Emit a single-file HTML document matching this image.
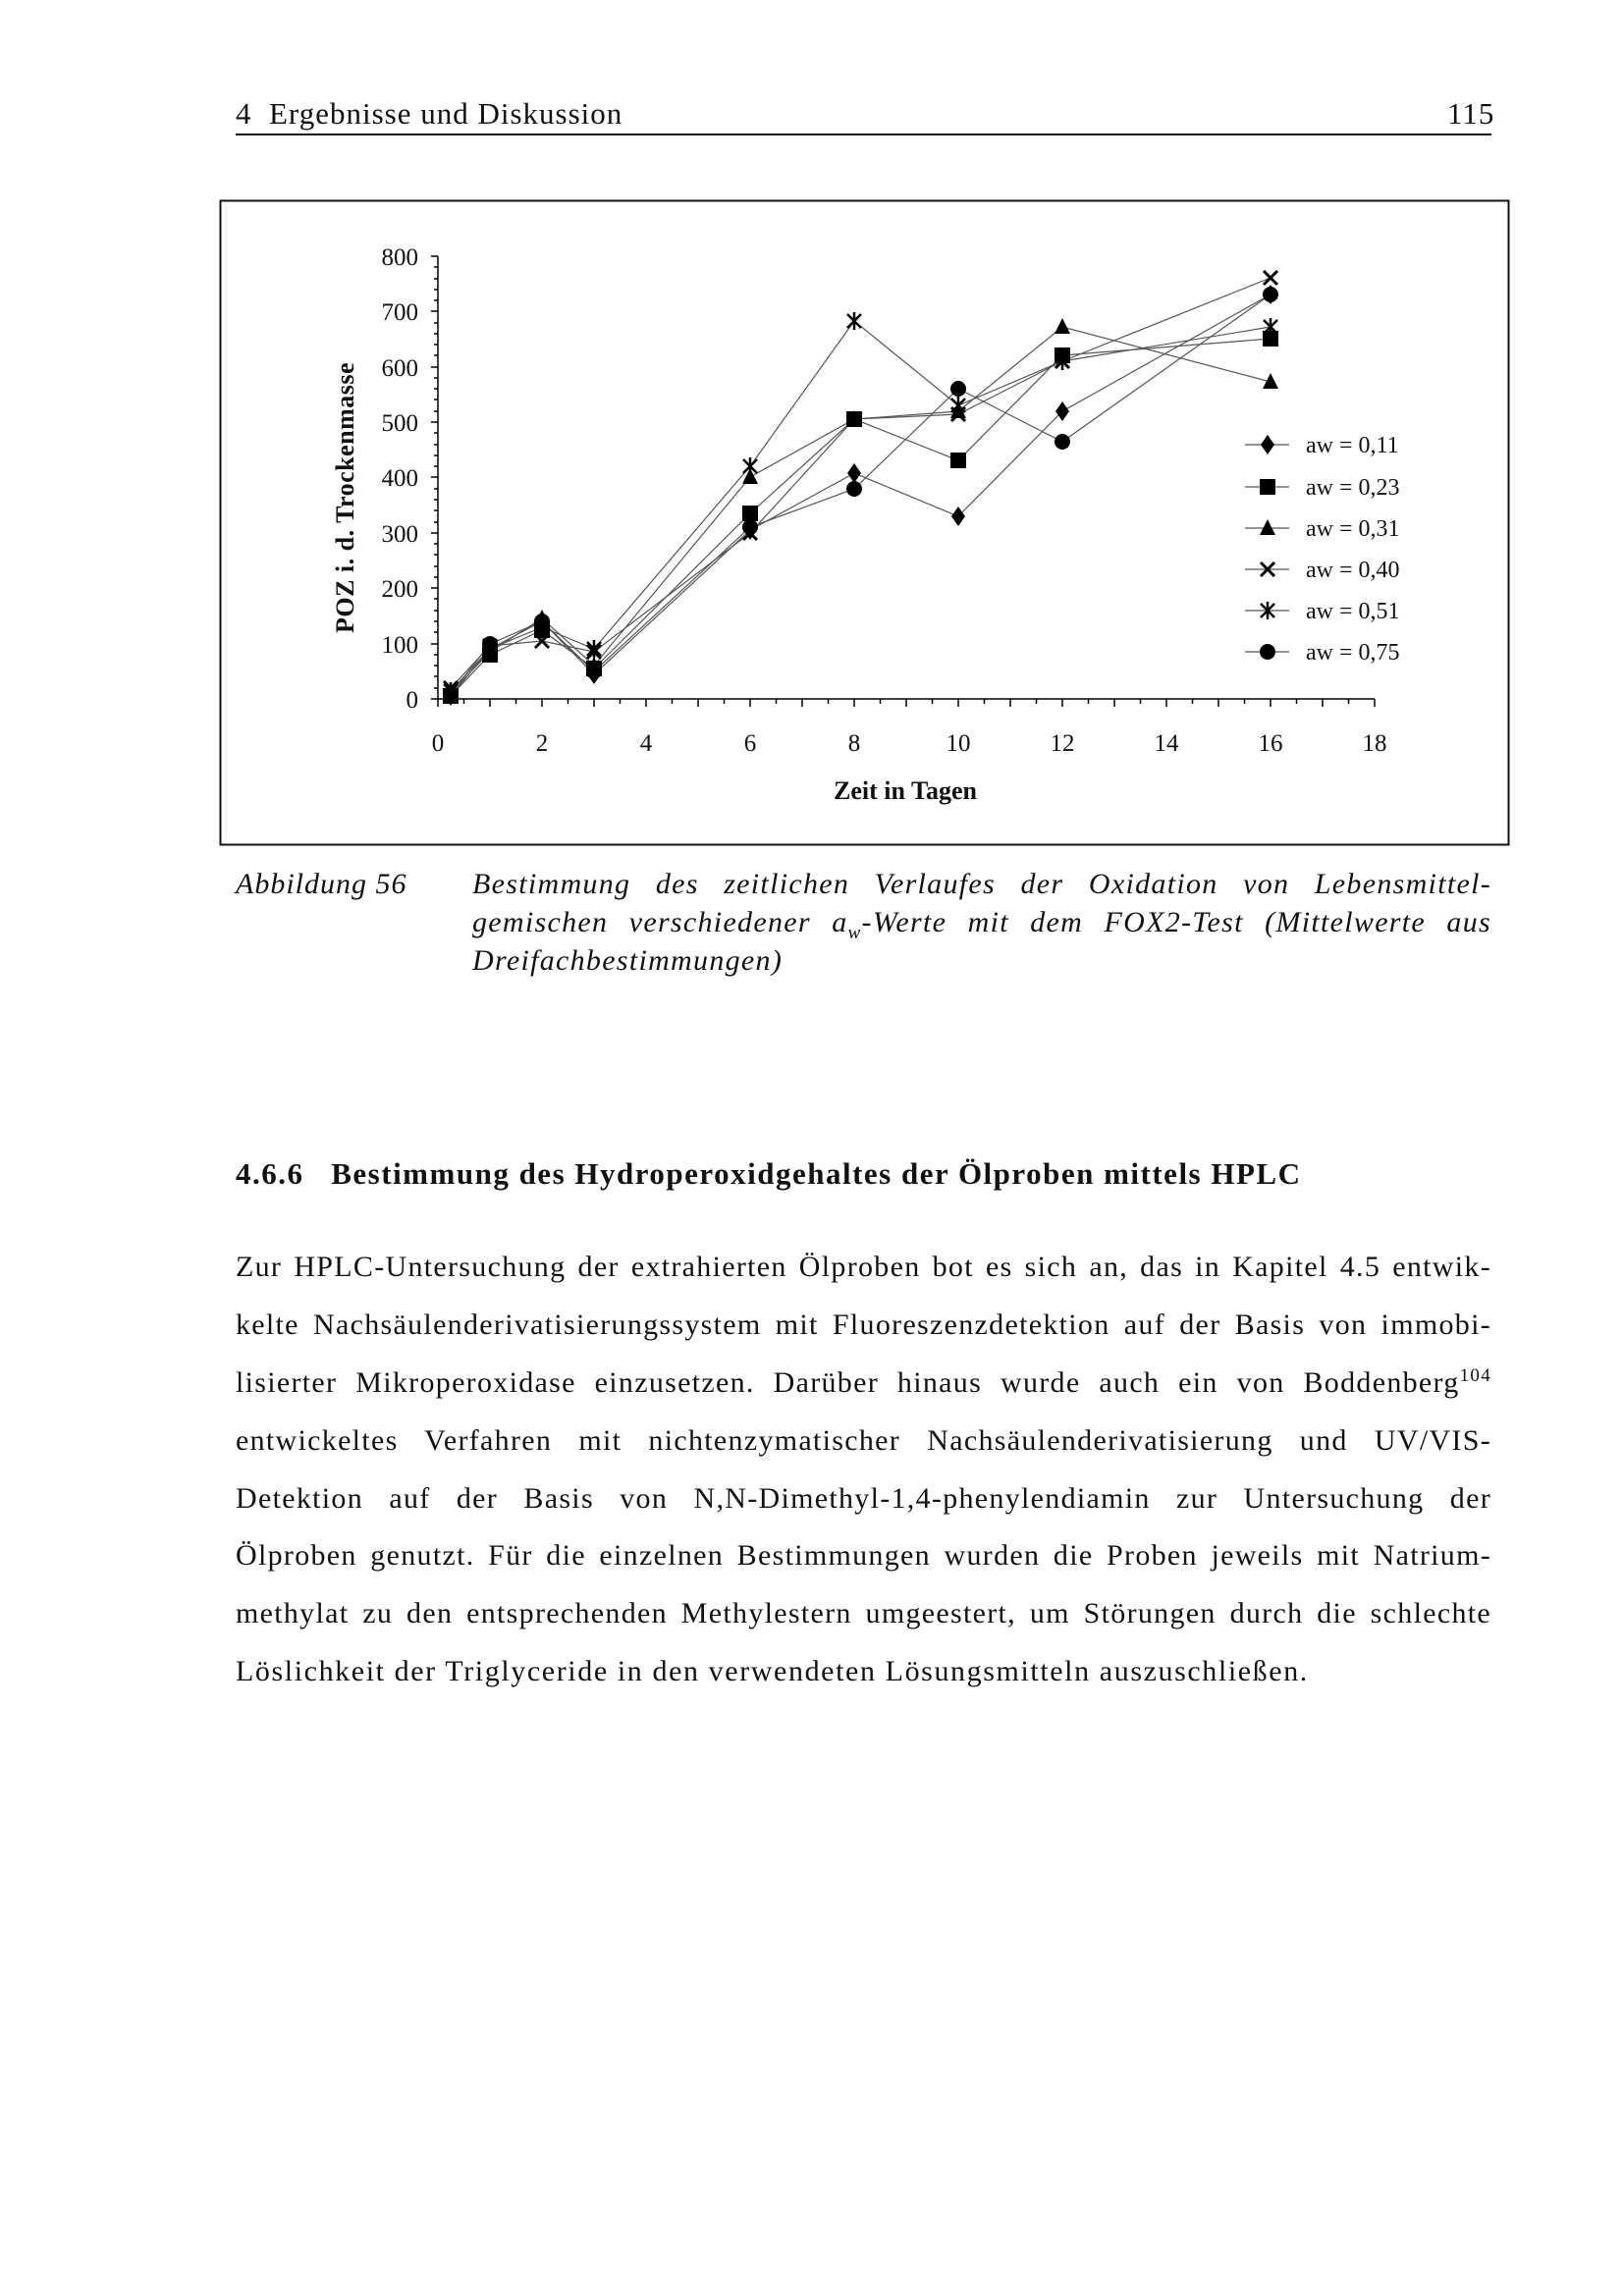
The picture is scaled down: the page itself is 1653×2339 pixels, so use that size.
<!DOCTYPE html>
<html><head><meta charset="utf-8"><style>
body{margin:0;background:#fff;}
.p{position:relative;width:1653px;height:2339px;font-family:"Liberation Serif",serif;color:#111;}
.t{position:absolute;white-space:nowrap;}
.j{position:absolute;left:240px;width:1279px;font-size:30px;letter-spacing:1.3px;text-align:justify;text-align-last:justify;white-space:nowrap;}
</style></head><body><div class="p">
<div class="t" style="left:240px;top:98px;font-size:31px;letter-spacing:1px;">4&nbsp; Ergebnisse und Diskussion</div>
<div class="t" style="left:1474px;top:98px;font-size:31px;letter-spacing:1px;">115</div>
<div style="position:absolute;left:240px;top:136px;width:1279px;height:2px;background:#111"></div>

<svg style="position:absolute;left:0;top:0" width="1653" height="900">
<rect x="224.5" y="204.5" width="1312" height="656" fill="none" stroke="#111" stroke-width="2"/>
<defs>
<path id="d" d="M0,-10 L7,0 L0,10 L-7,0Z" fill="#000"/>
<rect id="s" x="-8" y="-8" width="16" height="16" fill="#000"/>
<path id="tr" d="M0,-9 L8,7 L-8,7Z" fill="#000"/>
<path id="x" d="M-7,-7 L7,7 M-7,7 L7,-7" stroke="#000" stroke-width="3"/>
<path id="a" d="M-7,-7 L7,7 M-7,7 L7,-7 M0,-9 L0,9" stroke="#000" stroke-width="2.5"/>
<circle id="c" r="8" fill="#000"/>
</defs>
<g stroke="#000" stroke-width="1.5">
<line x1="446" y1="261" x2="446" y2="712"/>
<line x1="446" y1="712" x2="1400" y2="712"/>
<path d="M439,712H446M439,656H446M439,599H446M439,543H446M439,486H446M439,430H446M439,374H446M439,317H446M439,261H446"/>
<path d="M442,701H446M442,689H446M442,678H446M442,667H446M442,644H446M442,633H446M442,622H446M442,610H446M442,588H446M442,577H446M442,565H446M442,554H446M442,532H446M442,520H446M442,509H446M442,498H446M442,475H446M442,464H446M442,453H446M442,441H446M442,419H446M442,407H446M442,396H446M442,385H446M442,362H446M442,351H446M442,340H446M442,329H446M442,306H446M442,295H446M442,284H446M442,272H446"/>
<path d="M446,712V720M472.5,712V717M499,712V720M525.5,712V717M552,712V720M578.5,712V717M605,712V720M631.5,712V717M658,712V720M684.5,712V717M711,712V720M737.5,712V717M764,712V720M790.5,712V717M817,712V720M843.5,712V717M870,712V720M896.5,712V717M923,712V720M949.5,712V717M976,712V720M1002.5,712V717M1029,712V720M1055.5,712V717M1082,712V720M1108.5,712V717M1135,712V720M1161.5,712V717M1188,712V720M1214.5,712V717M1241,712V720M1267.5,712V717M1294,712V720M1320.5,712V717M1347,712V720M1373.5,712V717M1400,712V720"/>
</g>
<g fill="none" stroke="#555" stroke-width="1.2">
<polyline points="459,709 499,661 552,633 605,687 764,540 870,482 976,526 1082,419 1294,300"/>
<polyline points="459,709 499,667 552,642 605,681 764,523 870,427 976,469 1082,362 1294,345"/>
<polyline points="459,706 499,664 552,630 605,678 764,486 870,427 976,419 1082,333 1294,389"/>
<polyline points="459,701 499,658 552,653 605,664 764,543 870,427 976,422 1082,368 1294,283"/>
<polyline points="459,704 499,661 552,639 605,661 764,475 870,327 976,413 1082,368 1294,333"/>
<polyline points="459,707 499,656 552,633 605,684 764,537 870,498 976,396 1082,450 1294,300"/>
</g>
<g>
<use href="#d" x="459" y="709"/><use href="#d" x="499" y="661"/><use href="#d" x="552" y="633"/><use href="#d" x="605" y="687"/><use href="#d" x="764" y="540"/><use href="#d" x="870" y="482"/><use href="#d" x="976" y="526"/><use href="#d" x="1082" y="419"/><use href="#d" x="1294" y="300"/>
<use href="#s" x="459" y="709"/><use href="#s" x="499" y="667"/><use href="#s" x="552" y="642"/><use href="#s" x="605" y="681"/><use href="#s" x="764" y="523"/><use href="#s" x="870" y="427"/><use href="#s" x="976" y="469"/><use href="#s" x="1082" y="362"/><use href="#s" x="1294" y="345"/>
<use href="#tr" x="459" y="706"/><use href="#tr" x="499" y="664"/><use href="#tr" x="552" y="630"/><use href="#tr" x="605" y="678"/><use href="#tr" x="764" y="486"/><use href="#tr" x="870" y="427"/><use href="#tr" x="976" y="419"/><use href="#tr" x="1082" y="333"/><use href="#tr" x="1294" y="389"/>
<use href="#x" x="459" y="701"/><use href="#x" x="499" y="658"/><use href="#x" x="552" y="653"/><use href="#x" x="605" y="664"/><use href="#x" x="764" y="543"/><use href="#x" x="870" y="427"/><use href="#x" x="976" y="422"/><use href="#x" x="1082" y="368"/><use href="#x" x="1294" y="283"/>
<use href="#a" x="459" y="704"/><use href="#a" x="499" y="661"/><use href="#a" x="552" y="639"/><use href="#a" x="605" y="661"/><use href="#a" x="764" y="475"/><use href="#a" x="870" y="327"/><use href="#a" x="976" y="413"/><use href="#a" x="1082" y="368"/><use href="#a" x="1294" y="333"/>
<use href="#c" x="459" y="707"/><use href="#c" x="499" y="656"/><use href="#c" x="552" y="633"/><use href="#c" x="605" y="684"/><use href="#c" x="764" y="537"/><use href="#c" x="870" y="498"/><use href="#c" x="976" y="396"/><use href="#c" x="1082" y="450"/><use href="#c" x="1294" y="300"/>
</g>
<g font-family="Liberation Serif, serif" font-size="25" text-anchor="end" fill="#111">
<text x="426" y="721">0</text><text x="426" y="665">100</text><text x="426" y="608">200</text><text x="426" y="552">300</text><text x="426" y="495">400</text><text x="426" y="439">500</text><text x="426" y="383">600</text><text x="426" y="326">700</text><text x="426" y="270">800</text>
</g>
<g font-family="Liberation Serif, serif" font-size="25" text-anchor="middle" fill="#111">
<text x="446" y="765">0</text><text x="552" y="765">2</text><text x="658" y="765">4</text><text x="764" y="765">6</text><text x="870" y="765">8</text><text x="976" y="765">10</text><text x="1082" y="765">12</text><text x="1188" y="765">14</text><text x="1294" y="765">16</text><text x="1400" y="765">18</text>
<text x="922" y="814" font-weight="bold" font-size="26">Zeit in Tagen</text>
<text transform="translate(360,507) rotate(-90)" font-weight="bold" font-size="26" letter-spacing="0.5">POZ i. d. Trockenmasse</text>
</g>
<g stroke="#555" stroke-width="1.2">
<line x1="1268" y1="453" x2="1313" y2="453"/><line x1="1268" y1="496" x2="1313" y2="496"/><line x1="1268" y1="538" x2="1313" y2="538"/><line x1="1268" y1="580" x2="1313" y2="580"/><line x1="1268" y1="622" x2="1313" y2="622"/><line x1="1268" y1="664" x2="1313" y2="664"/>
</g>
<use href="#d" x="1291" y="453"/><use href="#s" x="1291" y="496"/><use href="#tr" x="1291" y="538"/><use href="#x" x="1291" y="580"/><use href="#a" x="1291" y="622"/><use href="#c" x="1291" y="664"/>
<g font-family="Liberation Serif, serif" font-size="24" fill="#111">
<text x="1330" y="461">aw = 0,11</text><text x="1330" y="504">aw = 0,23</text><text x="1330" y="546">aw = 0,31</text><text x="1330" y="588">aw = 0,40</text><text x="1330" y="630">aw = 0,51</text><text x="1330" y="672">aw = 0,75</text>
</g>
</svg>

<div class="t" style="left:240px;top:884px;font-size:30px;font-style:italic;letter-spacing:1px;">Abbildung 56</div>
<div class="j" style="left:481px;width:1038px;top:884px;font-style:italic;">Bestimmung des zeitlichen Verlaufes der Oxidation von Lebensmittel-</div>
<div class="j" style="left:481px;width:1038px;top:923px;font-style:italic;">gemischen verschiedener a<sub style="font-size:19px;line-height:0">w</sub>-Werte mit dem FOX2-Test (Mittelwerte aus</div>
<div class="t" style="left:481px;top:962px;font-size:30px;font-style:italic;letter-spacing:1.3px;">Dreifachbestimmungen)</div>

<div class="t" style="left:240px;top:1178px;font-size:31px;font-weight:bold;letter-spacing:1.5px;">4.6.6&nbsp;&nbsp; Bestimmung des Hydroperoxidgehaltes der Ölproben mittels HPLC</div>

<div class="j" style="top:1274px;">Zur HPLC-Untersuchung der extrahierten Ölproben bot es sich an, das in Kapitel 4.5 entwik-</div>
<div class="j" style="top:1333px;">kelte Nachsäulenderivatisierungssystem mit Fluoreszenzdetektion auf der Basis von immobi-</div>
<div class="j" style="top:1392px;">lisierter Mikroperoxidase einzusetzen. Darüber hinaus wurde auch ein von Boddenberg<sup style="font-size:19px;line-height:0">104</sup></div>
<div class="j" style="top:1451px;">entwickeltes Verfahren mit nichtenzymatischer Nachsäulenderivatisierung und UV/VIS-</div>
<div class="j" style="top:1510px;">Detektion auf der Basis von N,N-Dimethyl-1,4-phenylendiamin zur Untersuchung der</div>
<div class="j" style="top:1568px;">Ölproben genutzt. Für die einzelnen Bestimmungen wurden die Proben jeweils mit Natrium-</div>
<div class="j" style="top:1627px;">methylat zu den entsprechenden Methylestern umgeestert, um Störungen durch die schlechte</div>
<div class="t" style="left:240px;top:1686px;font-size:30px;letter-spacing:1.6px;">Löslichkeit der Triglyceride in den verwendeten Lösungsmitteln auszuschließen.</div>
</div></body></html>
